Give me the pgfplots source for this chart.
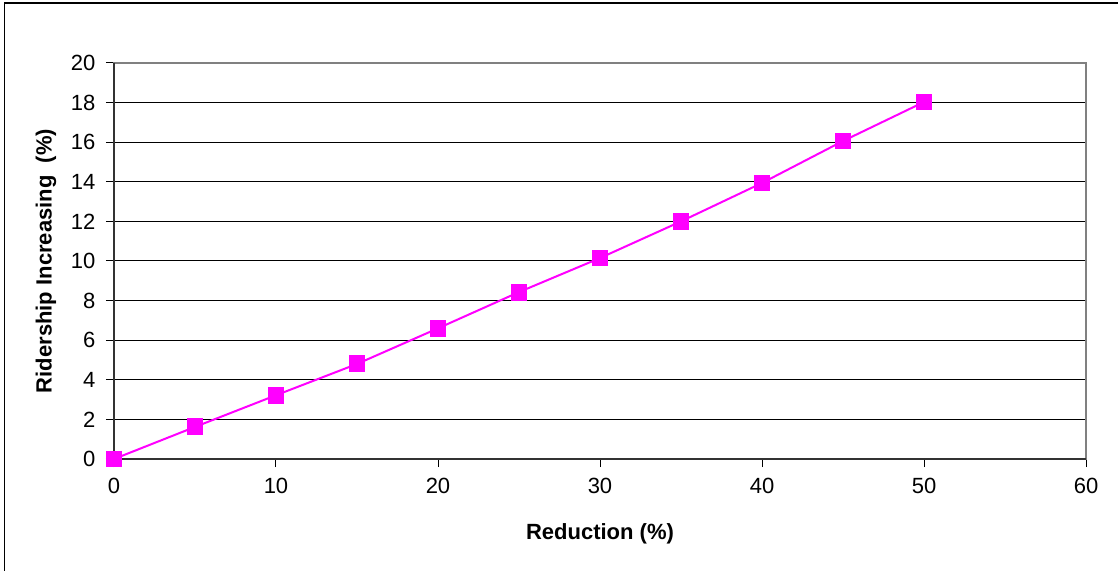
\documentclass[border=0pt]{standalone}
\usepackage{pgfplots}
\pgfplotsset{compat=1.18}
\usepackage{fontspec}
\setmainfont{Liberation Sans}
\definecolor{mag}{RGB}{255,0,255}
\begin{document}
\begin{tikzpicture}
\path[use as bounding box] (-85.5pt,-84pt) rectangle (753pt,344.25pt);
\draw[black, line width=0.8pt] (-82pt,-90pt) -- (-82pt,342pt) -- (760pt,342pt);
\begin{axis}[
  at={(0,0)}, anchor=south west,
  scale only axis, width=729pt, height=297pt,
  xmin=0, xmax=60, ymin=0, ymax=20,
  xtick={0,10,...,60}, ytick={0,2,...,20},
  tick pos=left,
  tick align=outside, major tick length=6pt,
  tick style={black, line width=0.75pt},
  ymajorgrids, grid style={black, line width=0.75pt},
  axis line style={draw=gray, line width=1.5pt},
  every tick label/.append style={font=\fontsize{16.5pt}{19pt}\selectfont},
  yticklabel style={xshift=-4.5pt},
  xticklabel style={yshift=-5pt},
  /pgf/number format/assume math mode=true,
  xlabel={\bfseries Reduction (\%)},
  ylabel={\bfseries Ridership Increasing\ \ (\%)},
  label style={font=\fontsize{16.5pt}{19pt}\selectfont},
  xlabel style={at={(axis description cs:0.5,0)}, anchor=center, yshift=-56pt},
  ylabel style={at={(axis description cs:0,0.5)}, anchor=center, rotate=0, yshift=51pt},
  clip=false,
]
\draw[black!80, line width=1.5pt] (rel axis cs:0,1) -- (rel axis cs:0,0) -- (rel axis cs:1,0);
\addplot[mag, line width=1.5pt, mark=square*, mark size=5.6pt, mark options={solid, fill=mag, draw=mag}]
coordinates {(0,0) (5,1.62) (10,3.22) (15,4.8) (20,6.6) (25,8.43) (30,10.15) (35,12.0) (40,13.94) (45,16.06) (50,18.03)};
\end{axis}
\end{tikzpicture}
\end{document}
